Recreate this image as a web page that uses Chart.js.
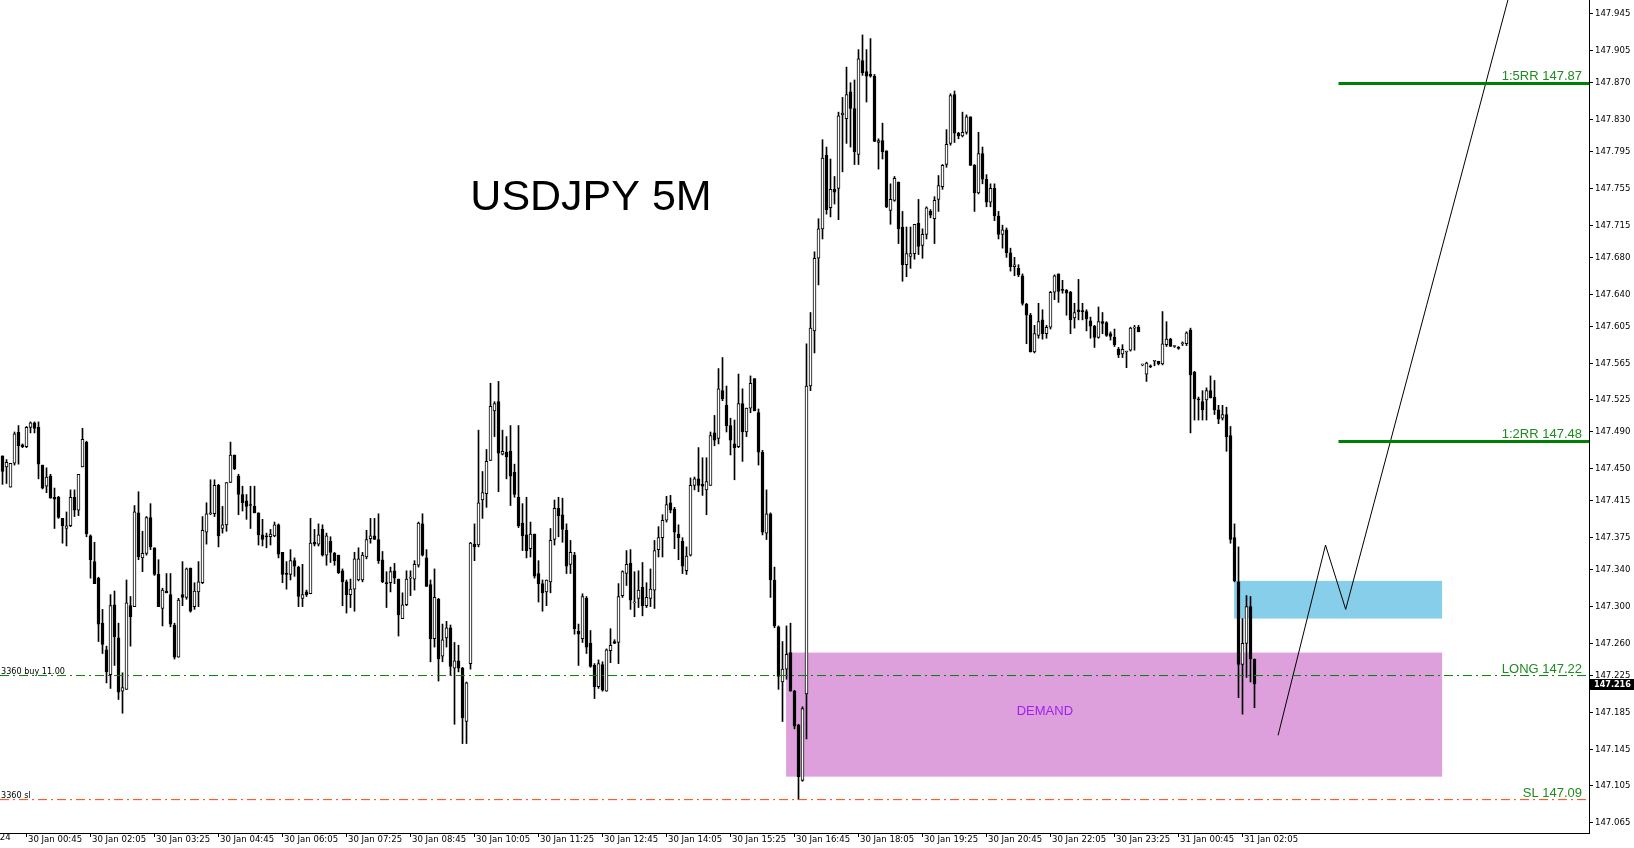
<!DOCTYPE html>
<html>
<head>
<meta charset="utf-8">
<script src="https://cdn.jsdelivr.net/npm/chart.js@4.4.1/dist/chart.umd.min.js"></script>
<style>
  html, body { margin: 0; padding: 0; background: #fff; overflow: hidden; }
</style>
</head>
<body>
<canvas id="chart" width="1634" height="848"></canvas>
<script>
// USDJPY 5M candles, 30 Jan 00:15 -> 31 Jan 02:20
const opens = [
  147.464,147.452,147.430,147.456,147.490,147.476,147.474,147.495,147.500,147.495,
  147.454,147.431,147.442,147.419,147.419,147.396,147.385,147.388,147.419,147.405,
  147.452,147.479,147.377,147.349,147.331,147.282,147.253,147.226,147.302,147.266,
  147.208,147.210,147.301,147.300,147.402,147.353,147.358,147.397,147.364,147.335,
  147.298,147.317,147.313,147.280,147.245,147.313,147.310,147.342,147.300,147.316,
  147.326,147.381,147.401,147.401,147.432,147.385,147.389,147.435,147.465,147.442,
  147.422,147.415,147.411,147.409,147.402,147.378,147.377,147.376,147.377,147.389,
  147.359,147.336,147.335,147.350,147.343,147.309,147.316,147.314,147.370,147.368,
  147.384,147.356,147.371,147.358,147.356,147.339,147.327,147.313,147.319,147.329,
  147.329,147.354,147.374,147.377,147.373,147.351,147.326,147.326,147.339,147.330,
  147.287,147.302,147.331,147.330,147.345,147.390,147.353,147.324,147.265,147.308,
  147.246,147.266,147.277,147.233,147.241,147.233,147.175,147.238,147.368,147.367,
  147.416,147.423,147.459,147.513,147.523,147.466,147.468,147.469,147.446,147.419,
  147.391,147.378,147.363,147.379,147.336,147.325,147.316,147.327,147.373,147.407,
  147.400,147.383,147.346,147.356,147.273,147.265,147.309,147.260,147.236,147.213,
  147.237,147.208,147.252,147.262,147.261,147.312,147.336,147.347,147.304,147.309,
  147.321,147.301,147.309,147.318,147.362,147.375,147.394,147.413,147.406,147.379,
  147.371,147.339,147.356,147.432,147.439,147.433,147.427,147.432,147.489,147.483,
  147.535,147.519,147.497,147.477,147.474,147.521,147.490,147.516,147.548,147.511,
  147.468,147.380,147.401,147.329,147.278,147.218,147.232,147.250,147.208,147.171,
  147.111,147.205,147.540,147.600,147.679,147.711,147.791,147.734,147.754,147.755,
  147.835,147.831,147.860,147.842,147.792,147.894,147.882,147.879,147.877,147.805,
  147.807,147.796,147.731,147.742,147.762,147.713,147.672,147.681,147.684,147.717,
  147.693,147.705,147.730,147.722,147.743,147.757,147.781,147.804,147.857,147.815,
  147.812,147.816,147.833,147.780,147.750,147.793,147.765,147.740,147.755,147.725,
  147.705,147.710,147.685,147.670,147.668,147.660,147.629,147.617,147.577,147.595,
  147.612,147.597,147.604,147.642,147.662,147.645,147.644,147.642,147.614,147.623,
  147.622,147.621,147.611,147.605,147.593,147.610,147.609,147.597,147.593,147.580,
  147.575,147.577,147.579,147.603,147.604,147.563,147.553,147.562,147.567,147.567,
  147.564,147.585,147.591,147.583,147.582,147.586,147.586,147.601,147.555,147.526,
  147.523,147.525,147.535,147.528,147.514,147.505,147.509,147.486,147.375,147.327,
  147.237,147.260,147.300,147.243
];
const highs = [
  147.464,147.460,147.456,147.490,147.497,147.477,147.496,147.501,147.501,147.501,
  147.454,147.451,147.444,147.429,147.420,147.396,147.403,147.427,147.427,147.444,
  147.494,147.480,147.378,147.370,147.332,147.297,147.257,147.313,147.317,147.282,
  147.228,147.329,147.311,147.410,147.425,147.382,147.398,147.412,147.364,147.351,
  147.320,147.336,147.336,147.282,147.309,147.349,147.342,147.342,147.326,147.349,
  147.398,147.413,147.438,147.438,147.433,147.409,147.435,147.479,147.465,147.444,
  147.431,147.422,147.431,147.431,147.402,147.395,147.380,147.384,147.392,147.390,
  147.359,147.349,147.362,147.353,147.344,147.346,147.318,147.396,147.384,147.390,
  147.389,147.380,147.376,147.359,147.356,147.341,147.329,147.330,147.359,147.364,
  147.359,147.383,147.396,147.396,147.401,147.360,147.338,147.343,147.347,147.330,
  147.315,147.339,147.339,147.350,147.392,147.401,147.362,147.329,147.341,147.309,
  147.281,147.284,147.280,147.261,147.258,147.234,147.218,147.370,147.390,147.492,
  147.447,147.471,147.543,147.523,147.545,147.492,147.485,147.497,147.455,147.497,
  147.412,147.419,147.392,147.379,147.350,147.329,147.329,147.385,147.416,147.419,
  147.418,147.390,147.372,147.359,147.281,147.314,147.311,147.274,147.238,147.242,
  147.240,147.254,147.276,147.264,147.325,147.339,147.361,147.362,147.338,147.339,
  147.348,147.326,147.341,147.372,147.387,147.400,147.420,147.421,147.408,147.389,
  147.375,147.365,147.440,147.441,147.473,147.462,147.462,147.490,147.508,147.559,
  147.571,147.540,147.505,147.503,147.553,147.537,147.516,147.551,147.548,147.515,
  147.470,147.427,147.402,147.343,147.279,147.262,147.279,147.282,147.209,147.172,
  147.191,147.586,147.620,147.686,147.722,147.808,147.800,147.787,147.768,147.838,
  147.854,147.887,147.870,147.873,147.906,147.922,147.906,147.918,147.879,147.809,
  147.826,147.796,147.760,147.768,147.762,147.730,147.713,147.713,147.716,147.743,
  147.711,147.735,147.732,147.746,147.769,147.781,147.819,147.858,147.861,147.816,
  147.838,147.835,147.833,147.781,147.816,147.800,147.770,147.760,147.760,147.730,
  147.715,147.712,147.690,147.680,147.672,147.662,147.630,147.619,147.606,147.630,
  147.623,147.606,147.643,147.661,147.662,147.655,147.645,147.643,147.630,147.656,
  147.630,147.623,147.615,147.606,147.626,147.620,147.610,147.599,147.602,147.582,
  147.585,147.578,147.604,147.606,147.606,147.563,147.566,147.563,147.568,147.567,
  147.621,147.610,147.592,147.584,147.583,147.588,147.599,147.603,147.556,147.528,
  147.535,147.538,147.551,147.546,147.519,147.519,147.517,147.496,147.390,147.365,
  147.287,147.312,147.311,147.243
];
const lows = [
  147.433,147.434,147.430,147.454,147.455,147.473,147.473,147.489,147.489,147.439,
  147.428,147.424,147.418,147.385,147.396,147.369,147.366,147.387,147.398,147.399,
  147.452,147.376,147.331,147.325,147.262,147.249,147.217,147.211,147.236,147.199,
  147.184,147.210,147.257,147.300,147.351,147.338,147.356,147.362,147.334,147.300,
  147.279,147.315,147.278,147.243,147.245,147.301,147.308,147.294,147.297,147.300,
  147.325,147.368,147.400,147.398,147.365,147.380,147.382,147.435,147.449,147.400,
  147.404,147.395,147.385,147.402,147.367,147.366,147.364,147.367,147.376,147.353,
  147.326,147.319,147.329,147.333,147.300,147.300,147.311,147.314,147.366,147.366,
  147.355,147.345,147.348,147.345,147.336,147.301,147.293,147.299,147.295,147.328,
  147.327,147.352,147.369,147.373,147.347,147.326,147.299,147.316,147.325,147.268,
  147.287,147.301,147.312,147.318,147.343,147.355,147.322,147.240,147.256,147.219,
  147.240,147.256,147.225,147.172,147.229,147.151,147.151,147.232,147.350,147.365,
  147.396,147.408,147.459,147.485,147.425,147.465,147.439,147.410,147.419,147.386,
  147.361,147.353,147.354,147.331,147.305,147.295,147.301,147.315,147.367,147.376,
  147.370,147.336,147.336,147.270,147.236,147.261,147.249,147.234,147.200,147.211,
  147.208,147.208,147.239,147.260,147.238,147.310,147.323,147.297,147.289,147.299,
  147.290,147.299,147.300,147.298,147.354,147.354,147.392,147.402,147.363,147.351,
  147.336,147.335,147.355,147.427,147.425,147.421,147.400,147.432,147.475,147.477,
  147.524,147.490,147.465,147.438,147.473,147.458,147.485,147.511,147.513,147.454,
  147.378,147.373,147.310,147.277,147.210,147.175,147.221,147.208,147.167,147.090,
  147.110,147.156,147.535,147.576,147.650,147.700,147.727,147.724,147.738,147.721,
  147.773,147.804,147.800,147.781,147.781,147.878,147.849,147.876,147.806,147.776,
  147.787,147.734,147.716,147.741,147.695,147.654,147.659,147.668,147.678,147.683,
  147.679,147.700,147.723,147.695,147.730,147.754,147.778,147.802,147.805,147.809,
  147.811,147.814,147.780,147.730,147.749,147.760,147.735,147.735,147.720,147.700,
  147.690,147.680,147.665,147.660,147.659,147.628,147.586,147.577,147.576,147.592,
  147.591,147.592,147.602,147.634,147.631,147.641,147.617,147.597,147.603,147.612,
  147.612,147.600,147.592,147.582,147.592,147.597,147.594,147.590,147.583,147.571,
  147.571,147.560,147.578,147.579,147.599,147.562,147.545,147.560,147.562,147.563,
  147.563,147.583,147.583,147.582,147.580,147.584,147.584,147.489,147.503,147.503,
  147.503,147.503,147.527,147.509,147.499,147.503,147.469,147.369,147.327,147.201,
  147.183,147.223,147.218,147.190
];
const closes = [
  147.447,147.457,147.456,147.488,147.475,147.474,147.495,147.500,147.494,147.455,
  147.429,147.441,147.418,147.417,147.397,147.388,147.388,147.419,147.405,147.444,
  147.482,147.379,147.351,147.325,147.281,147.259,147.229,147.301,147.267,147.207,
  147.212,147.304,147.289,147.403,147.354,147.358,147.397,147.365,147.335,147.300,
  147.318,147.315,147.281,147.245,147.307,147.310,147.341,147.295,147.317,147.327,
  147.383,147.401,147.402,147.432,147.377,147.389,147.435,147.465,147.450,147.422,
  147.413,147.409,147.410,147.402,147.378,147.373,147.376,147.379,147.389,147.357,
  147.335,147.335,147.350,147.344,147.311,147.313,147.313,147.369,147.368,147.378,
  147.356,147.377,147.359,147.350,147.337,147.327,147.313,147.319,147.352,147.352,
  147.356,147.373,147.377,147.373,147.350,147.327,147.325,147.338,147.331,147.291,
  147.302,147.330,147.331,147.346,147.391,147.356,147.322,147.265,147.310,147.243,
  147.264,147.277,147.235,147.241,147.233,147.179,147.217,147.369,147.365,147.413,
  147.424,147.458,147.518,147.521,147.467,147.469,147.463,147.442,147.422,147.388,
  147.377,147.361,147.379,147.333,147.325,147.315,147.329,147.372,147.407,147.399,
  147.384,147.344,147.359,147.276,147.270,147.311,147.256,147.235,147.213,147.238,
  147.209,147.253,147.258,147.260,147.311,147.338,147.346,147.307,147.304,147.318,
  147.301,147.310,147.319,147.361,147.375,147.394,147.411,147.405,147.381,147.375,
  147.344,147.355,147.432,147.439,147.432,147.431,147.436,147.486,147.481,147.537,
  147.526,147.497,147.481,147.473,147.521,147.490,147.516,147.543,147.513,147.468,
  147.381,147.401,147.329,147.279,147.224,147.232,147.248,147.208,147.170,147.115,
  147.189,147.540,147.603,147.679,147.711,147.788,147.732,147.754,147.751,147.834,
  147.837,147.857,147.842,147.795,147.896,147.881,147.877,147.877,147.806,147.807,
  147.795,147.735,147.743,147.766,147.711,147.672,147.684,147.684,147.716,147.692,
  147.705,147.734,147.726,147.742,147.758,147.780,147.803,147.856,147.815,147.812,
  147.816,147.833,147.780,147.750,147.793,147.765,147.740,147.755,147.725,147.705,
  147.710,147.685,147.670,147.672,147.661,147.630,147.617,147.577,147.597,147.610,
  147.597,147.604,147.642,147.660,147.643,147.644,147.641,147.612,147.620,147.621,
  147.621,147.613,147.605,147.593,147.610,147.608,147.595,147.594,147.585,147.574,
  147.580,147.577,147.603,147.603,147.599,147.563,147.565,147.561,147.568,147.564,
  147.586,147.591,147.583,147.583,147.581,147.586,147.598,147.552,147.526,147.525,
  147.514,147.535,147.527,147.514,147.504,147.509,147.485,147.373,147.328,147.237,
  147.260,147.300,147.243,147.216
];

// axis labels as printed on the picture
const priceTicks = [147.945, 147.905, 147.870, 147.830, 147.795, 147.755, 147.715, 147.680,
  147.640, 147.605, 147.565, 147.525, 147.490, 147.450, 147.415, 147.375, 147.340, 147.300,
  147.260, 147.225, 147.185, 147.145, 147.105, 147.065];
const timeLabels = ['30 Jan 00:45', '30 Jan 02:05', '30 Jan 03:25', '30 Jan 04:45', '30 Jan 06:05',
  '30 Jan 07:25', '30 Jan 08:45', '30 Jan 10:05', '30 Jan 11:25', '30 Jan 12:45', '30 Jan 14:05',
  '30 Jan 15:25', '30 Jan 16:45', '30 Jan 18:05', '30 Jan 19:25', '30 Jan 20:45', '30 Jan 22:05',
  '30 Jan 23:25', '31 Jan 00:45', '31 Jan 02:05'];
const firstLabelBar = 6;   // 30 Jan 00:45 is the 7th bar
const labelEvery = 16;     // 80 minutes of 5M bars

// trade levels
const longPrice = 147.225;
const slPrice = 147.09;
const rr2Price = 147.48;
const rr5Price = 147.87;
const rrFromBar = 334;

// zones (bar index from/to, price top/bottom)
const demandZone = [195.9, 359.9, 147.250, 147.115];
const supplyZone = [307.9, 359.9, 147.328, 147.287];
const demandLabelBar = 260.6;

// projected path (bar index, price)
const pathBars = [318.9, 330.75, 335.8, 378.8];
const pathPrices = [147.160, 147.367, 147.297, 148.0];

const xMin = -0.625, xMax = 396.625;
const tickFont = { family: '"DejaVu Sans Condensed", "DejaVu Sans", sans-serif', size: 9.5 };
const bars = opens.map((_, i) => i);

const overlay = {
  id: 'overlay',
  beforeDatasetsDraw(chart) {
    const { ctx, scales: { x, y } } = chart;
    ctx.save();
    [[demandZone, '#DDA0DD'], [supplyZone, '#87CEEB']].forEach(([z, c]) => {
      const x0 = x.getPixelForValue(z[0]);
      const x1 = x.getPixelForValue(z[1]);
      const y0 = y.getPixelForValue(z[2]);
      const y1 = y.getPixelForValue(z[3]);
      ctx.fillStyle = c;
      ctx.fillRect(x0, y0, x1 - x0, y1 - y0);
    });
    ctx.restore();
  },
  afterDatasetsDraw(chart) {
    const { ctx, chartArea, scales: { x, y } } = chart;
    ctx.save();
    ctx.beginPath();
    ctx.rect(chartArea.left, chartArea.top, chartArea.right - chartArea.left, chartArea.bottom - chartArea.top);
    ctx.clip();

    // target lines
    [rr5Price, rr2Price].forEach(p => {
      const py = Math.round(y.getPixelForValue(p));
      ctx.fillStyle = '#008000';
      const x0 = x.getPixelForValue(rrFromBar);
      ctx.fillRect(x0, py - 1, chartArea.right - x0, 3);
    });

    // labels on the right
    const yLong = y.getPixelForValue(longPrice);
    const ySl = y.getPixelForValue(slPrice);
    ctx.font = '13px "Liberation Sans", Arial, sans-serif';
    ctx.fillStyle = '#208a20';
    ctx.textAlign = 'right';
    ctx.textBaseline = 'alphabetic';
    const rx = chartArea.right - 7;
    ctx.fillText('1:5RR 147.87', rx, Math.round(y.getPixelForValue(rr5Price)) - 3);
    ctx.fillText('1:2RR 147.48', rx, Math.round(y.getPixelForValue(rr2Price)) - 3);
    ctx.fillText('LONG 147.22', rx, Math.round(yLong) - 3);
    ctx.fillText('SL 147.09', rx, Math.round(ySl) - 3);

    // order labels on the left
    ctx.font = '9px "DejaVu Sans Condensed", "DejaVu Sans", sans-serif';
    ctx.fillStyle = '#000';
    ctx.textAlign = 'left';
    ctx.fillText('3360 buy 11.00', chartArea.left + 1, Math.round(yLong) - 2);
    ctx.fillText('3360 sl', chartArea.left + 1, Math.round(ySl) - 2);

    // zone caption
    ctx.font = '13px "Liberation Sans", Arial, sans-serif';
    ctx.fillStyle = '#A020F0';
    ctx.textAlign = 'center';
    ctx.textBaseline = 'middle';
    ctx.fillText('DEMAND', x.getPixelForValue(demandLabelBar), 711);

    // title
    ctx.font = '43px "Liberation Sans", Arial, sans-serif';
    ctx.fillStyle = '#000';
    ctx.textAlign = 'center';
    ctx.textBaseline = 'alphabetic';
    ctx.fillText('USDJPY 5M', 591, 210);
    ctx.restore();
  },
  afterDraw(chart) {
    const { ctx, chartArea, scales: { x, y } } = chart;
    ctx.save();
    // current price tag
    const last = closes[closes.length - 1];
    const py = Math.round(y.getPixelForValue(last));
    ctx.fillStyle = '#000';
    ctx.fillRect(chartArea.right + 1, py - 5, chart.width - chartArea.right - 1, 11);
    ctx.fillStyle = '#fff';
    ctx.font = 'bold 9px "DejaVu Sans Condensed", "DejaVu Sans", sans-serif';
    ctx.textAlign = 'left';
    ctx.textBaseline = 'middle';
    ctx.fillText(last.toFixed(3), chartArea.right + 5, py + 0.5);
    // the date label cut at the left edge
    ctx.fillStyle = '#000';
    ctx.font = '9.5px "DejaVu Sans Condensed", "DejaVu Sans", sans-serif';
    ctx.fillText('30 Jan 2024', x.getPixelForValue(firstLabelBar - labelEvery) - 3, chartArea.bottom + 5);
    ctx.restore();
  }
};

const levelLine = (price, color) => ({
  type: 'line',
  data: [{ x: xMin, y: price }, { x: xMax, y: price }],
  borderColor: color,
  borderWidth: 1,
  borderDash: [9, 4, 2, 4],
  pointRadius: 0,
  order: 0
});

new Chart(document.getElementById('chart'), {
  type: 'bar',
  data: {
    datasets: [
      levelLine(longPrice, '#008000'),
      levelLine(slPrice, '#FF4500'),
      {
        type: 'line',
        data: pathBars.map((b, k) => ({ x: b, y: pathPrices[k] })),
        borderColor: '#000',
        borderWidth: 1,
        pointRadius: 0,
        tension: 0,
        order: 0
      },
      {
        data: bars.map(i => ({ x: i, y: [opens[i], closes[i]] })),
        backgroundColor: bars.map(i => closes[i] >= opens[i] ? '#ffffff' : '#000000'),
        borderColor: '#000',
        borderWidth: 1,
        borderSkipped: false,
        barThickness: 3,
        minBarLength: 1,
        grouped: false,
        order: 1
      },
      {
        data: bars.map(i => ({ x: i, y: [lows[i], highs[i]] })),
        backgroundColor: '#000',
        borderWidth: 0,
        barThickness: 1,
        grouped: false,
        order: 2
      }
    ]
  },
  options: {
    responsive: false,
    animation: false,
    devicePixelRatio: 1,
    layout: { padding: 0 },
    plugins: { legend: { display: false }, tooltip: { enabled: false } },
    scales: {
      x: {
        type: 'linear',
        min: xMin,
        max: xMax,
        offset: false,
        grid: { offset: false, drawOnChartArea: false, drawTicks: true, tickLength: 4, tickColor: '#000' },
        border: { display: true, color: '#000', width: 1 },
        ticks: {
          autoSkip: false, maxRotation: 0, minRotation: 0, align: 'start', padding: -3, labelOffset: 1.5,
          color: '#000', font: tickFont,
          callback: v => timeLabels[Math.round((v - firstLabelBar) / labelEvery)] || ''
        },
        afterBuildTicks: s => { s.ticks = timeLabels.map((_, k) => ({ value: firstLabelBar + k * labelEvery })); },
        afterFit: s => { s.height = 15; s.paddingLeft = 0; s.paddingRight = 0; }
      },
      y: {
        type: 'linear',
        position: 'right',
        min: 147.0537,
        max: 147.960,
        grid: { drawOnChartArea: false, drawTicks: true, tickLength: 4, tickColor: '#000' },
        border: { display: true, color: '#000', width: 1 },
        ticks: { padding: 2, color: '#000', font: tickFont, callback: v => v.toFixed(3) },
        afterBuildTicks: s => { s.ticks = priceTicks.map(v => ({ value: v })); },
        afterFit: s => { s.width = 45; s.paddingTop = 0; s.paddingBottom = 0; }
      }
    }
  },
  plugins: [overlay]
});
</script>
</body>
</html>
